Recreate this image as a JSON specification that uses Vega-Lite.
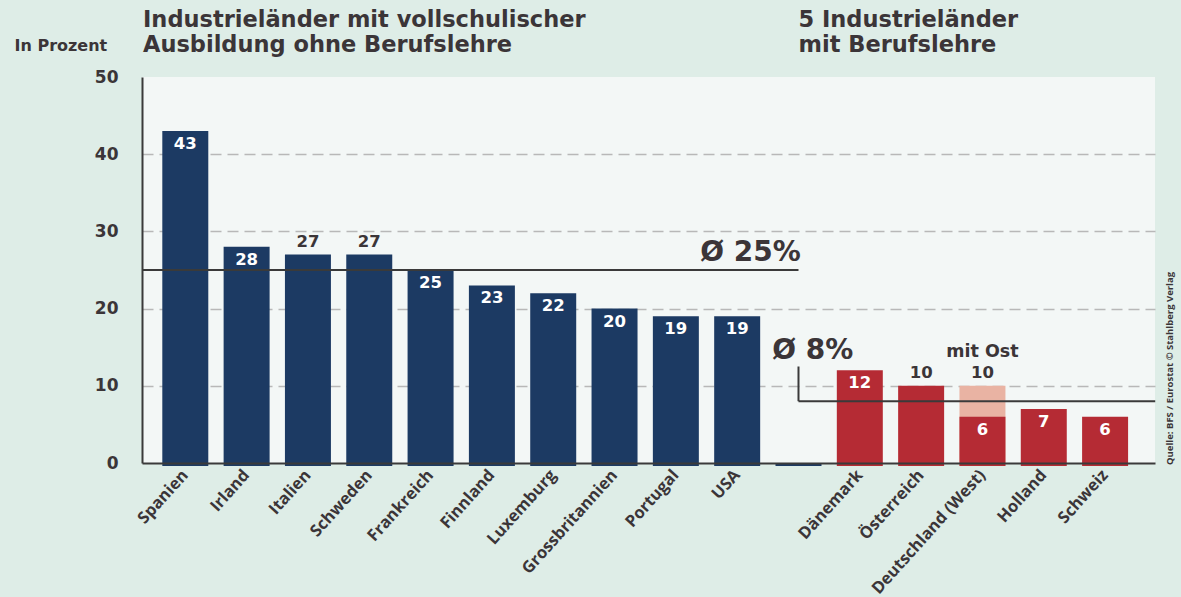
{
  "$schema": "https://vega.github.io/schema/vega-lite/v6.json",
  "width": 1013,
  "height": 386,
  "autosize": {"type": "none"},
  "padding": {"left": 142, "top": 77, "right": 26, "bottom": 134},
  "background": "#deede7",
  "view": {"fill": "#f3f7f6", "stroke": null},
  "config": {
    "font": "DejaVu Sans",
    "text": {"font": "DejaVu Sans", "fontWeight": "bold", "color": "#3b3538"}
  },
  "datasets": {
    "bars": [
      {"country": "Spanien", "value": 43, "group": "ohne"},
      {"country": "Irland", "value": 28, "group": "ohne"},
      {"country": "Italien", "value": 27, "group": "ohne"},
      {"country": "Schweden", "value": 27, "group": "ohne"},
      {"country": "Frankreich", "value": 25, "group": "ohne"},
      {"country": "Finnland", "value": 23, "group": "ohne"},
      {"country": "Luxemburg", "value": 22, "group": "ohne"},
      {"country": "Grossbritannien", "value": 20, "group": "ohne"},
      {"country": "Portugal", "value": 19, "group": "ohne"},
      {"country": "USA", "value": 19, "group": "ohne"},
      {"country": " ", "value": 0, "group": "ohne"},
      {"country": "Dänemark", "value": 12, "group": "mit"},
      {"country": "Österreich", "value": 10, "group": "mit"},
      {"country": "Deutschland (West)", "value": 6, "group": "mit", "ost": 10},
      {"country": "Holland", "value": 7, "group": "mit"},
      {"country": "Schweiz", "value": 6, "group": "mit"}
    ]
  },
  "data": {"name": "bars"},
  "encoding": {
    "x": {
      "field": "country",
      "type": "nominal",
      "sort": null,
      "scale": {
        "domain": ["Spanien", "Irland", "Italien", "Schweden", "Frankreich", "Finnland", "Luxemburg", "Grossbritannien", "Portugal", "USA", " ", "Dänemark", "Österreich", "Deutschland (West)", "Holland", "Schweiz"],
        "paddingInner": 0.25,
        "paddingOuter": 0.385,
        "align": 0.43
      },
      "axis": {
        "title": null,
        "labelAngle": -48,
        "labelAlign": "right",
        "labelBaseline": "middle",
        "labelPadding": 9,
        "tickSize": 0,
        "labelFont": "Open Sans",
        "labelFontSize": 16.5,
        "labelFontWeight": "bold",
        "labelColor": "#3b3538",
        "domainColor": "#3a3a3a",
        "domainWidth": 2,
        "zindex": 1
      }
    }
  },
  "layer": [
    {
      "transform": [{"filter": "datum.ost > 0"}],
      "mark": {"type": "bar", "color": "#e9b3a3"},
      "encoding": {
        "y": {
          "field": "ost",
          "type": "quantitative",
          "scale": {"domain": [0, 50], "nice": false},
          "axis": {
            "title": "In Prozent",
            "titleAngle": 0,
            "titleAlign": "left",
            "titleBaseline": "middle",
            "titleX": -128,
            "titleY": -32,
            "titleFont": "DejaVu Sans",
            "titleFontSize": 16,
            "titleFontWeight": "bold",
            "titleColor": "#3b3538",
            "values": [0, 10, 20, 30, 40, 50],
            "tickSize": 0,
            "labelPadding": 24,
            "labelFont": "DejaVu Sans",
            "labelFontSize": 17,
            "labelFontWeight": "bold",
            "labelColor": "#3b3538",
            "domainColor": "#3a3a3a",
            "domainWidth": 2,
            "grid": true,
            "gridColor": "#b8b8b8",
            "gridWidth": 1.5,
            "gridDash": [11, 6],
            "gridOpacity": {"condition": {"test": "datum.value == 0 || datum.value == 50", "value": 0}, "value": 1}
          }
        },
        "y2": {"datum": -0.4}
      }
    },
    {
      "mark": {"type": "bar"},
      "encoding": {
        "y": {"field": "value", "type": "quantitative"},
        "y2": {"datum": -0.4},
        "color": {
          "field": "group",
          "type": "nominal",
          "scale": {"domain": ["ohne", "mit"], "range": ["#1c3a63", "#b52b34"]},
          "legend": null
        }
      }
    },
    {
      "transform": [{"filter": "datum.value > 0 && indexof(['Italien','Schweden','Österreich'], datum.country) < 0"}],
      "mark": {"type": "text", "color": "white", "fontSize": 16.5, "baseline": "middle", "dy": 13},
      "encoding": {
        "y": {"field": "value", "type": "quantitative"},
        "text": {"field": "value"}
      }
    },
    {
      "transform": [{"filter": "indexof(['Italien','Schweden','Österreich'], datum.country) >= 0"}],
      "mark": {"type": "text", "fontSize": 16.5, "baseline": "middle", "dy": -13},
      "encoding": {
        "y": {"field": "value", "type": "quantitative"},
        "text": {"field": "value"}
      }
    },
    {
      "transform": [{"filter": "datum.ost > 0"}],
      "mark": {"type": "text", "fontSize": 16.5, "baseline": "middle", "dy": -13},
      "encoding": {
        "y": {"field": "ost", "type": "quantitative"},
        "text": {"field": "ost"}
      }
    },
    {
      "transform": [{"filter": "datum.ost > 0"}],
      "mark": {"type": "text", "fontSize": 17.5, "baseline": "middle", "dy": -34, "text": "mit Ost"},
      "encoding": {
        "y": {"field": "ost", "type": "quantitative"}
      }
    },
    {
      "data": {"values": [{"avg": 25}]},
      "mark": {"type": "rule", "color": "#3a3a3a", "strokeWidth": 2},
      "encoding": {
        "x": {"datum": "Spanien", "bandPosition": -0.435},
        "x2": {"datum": " ", "bandPosition": 0.5},
        "y": {"field": "avg", "type": "quantitative"}
      }
    },
    {
      "data": {"values": [{"avg": 25, "label": "Ø 25%"}]},
      "mark": {"type": "text", "fontSize": 28, "align": "right", "baseline": "alphabetic", "dy": -9},
      "encoding": {
        "x": {"datum": " ", "bandPosition": 0.55},
        "y": {"field": "avg", "type": "quantitative"},
        "text": {"field": "label"}
      }
    },
    {
      "data": {"values": [{"avg": 8, "top": 12.5}]},
      "mark": {"type": "rule", "color": "#3a3a3a", "strokeWidth": 2},
      "encoding": {
        "x": {"datum": " ", "bandPosition": 0.5},
        "y": {"field": "avg", "type": "quantitative"},
        "y2": {"field": "top"}
      }
    },
    {
      "data": {"values": [{"avg": 8}]},
      "mark": {"type": "rule", "color": "#3a3a3a", "strokeWidth": 2},
      "encoding": {
        "x": {"datum": " ", "bandPosition": 0.5},
        "x2": {"datum": "Schweiz", "bandPosition": 1.59},
        "y": {"field": "avg", "type": "quantitative"}
      }
    },
    {
      "data": {"values": [{"avg": 8, "label": "Ø 8%"}]},
      "mark": {"type": "text", "fontSize": 28, "align": "left", "baseline": "alphabetic", "dy": -42},
      "encoding": {
        "x": {"datum": " ", "bandPosition": -0.07},
        "y": {"field": "avg", "type": "quantitative"},
        "text": {"field": "label"}
      }
    },
    {
      "data": {"values": [{"top": 50, "label": ["Industrieländer mit vollschulischer", "Ausbildung ohne Berufslehre"]}]},
      "mark": {"type": "text", "fontSize": 22.5, "align": "left", "baseline": "alphabetic", "dy": -50, "lineHeight": 25},
      "encoding": {
        "x": {"datum": "Spanien", "bandPosition": -0.42},
        "y": {"field": "top", "type": "quantitative"},
        "text": {"field": "label"}
      }
    },
    {
      "data": {"values": [{"top": 50, "label": ["5 Industrieländer", "mit Berufslehre"]}]},
      "mark": {"type": "text", "fontSize": 22.5, "align": "left", "baseline": "alphabetic", "dy": -50, "lineHeight": 25},
      "encoding": {
        "x": {"datum": " ", "bandPosition": 0.5},
        "y": {"field": "top", "type": "quantitative"},
        "text": {"field": "label"}
      }
    },
    {
      "data": {"values": [{"base": 0, "label": "Quelle: BFS / Eurostat © Stahlberg Verlag"}]},
      "mark": {"type": "text", "font": "Open Sans", "fontSize": 9.5, "angle": 270, "align": "left", "baseline": "middle", "dy": 42, "dx": -2},
      "encoding": {
        "x": {"datum": "Schweiz", "bandPosition": 1},
        "y": {"field": "base", "type": "quantitative"},
        "text": {"field": "label"}
      }
    }
  ]
}
